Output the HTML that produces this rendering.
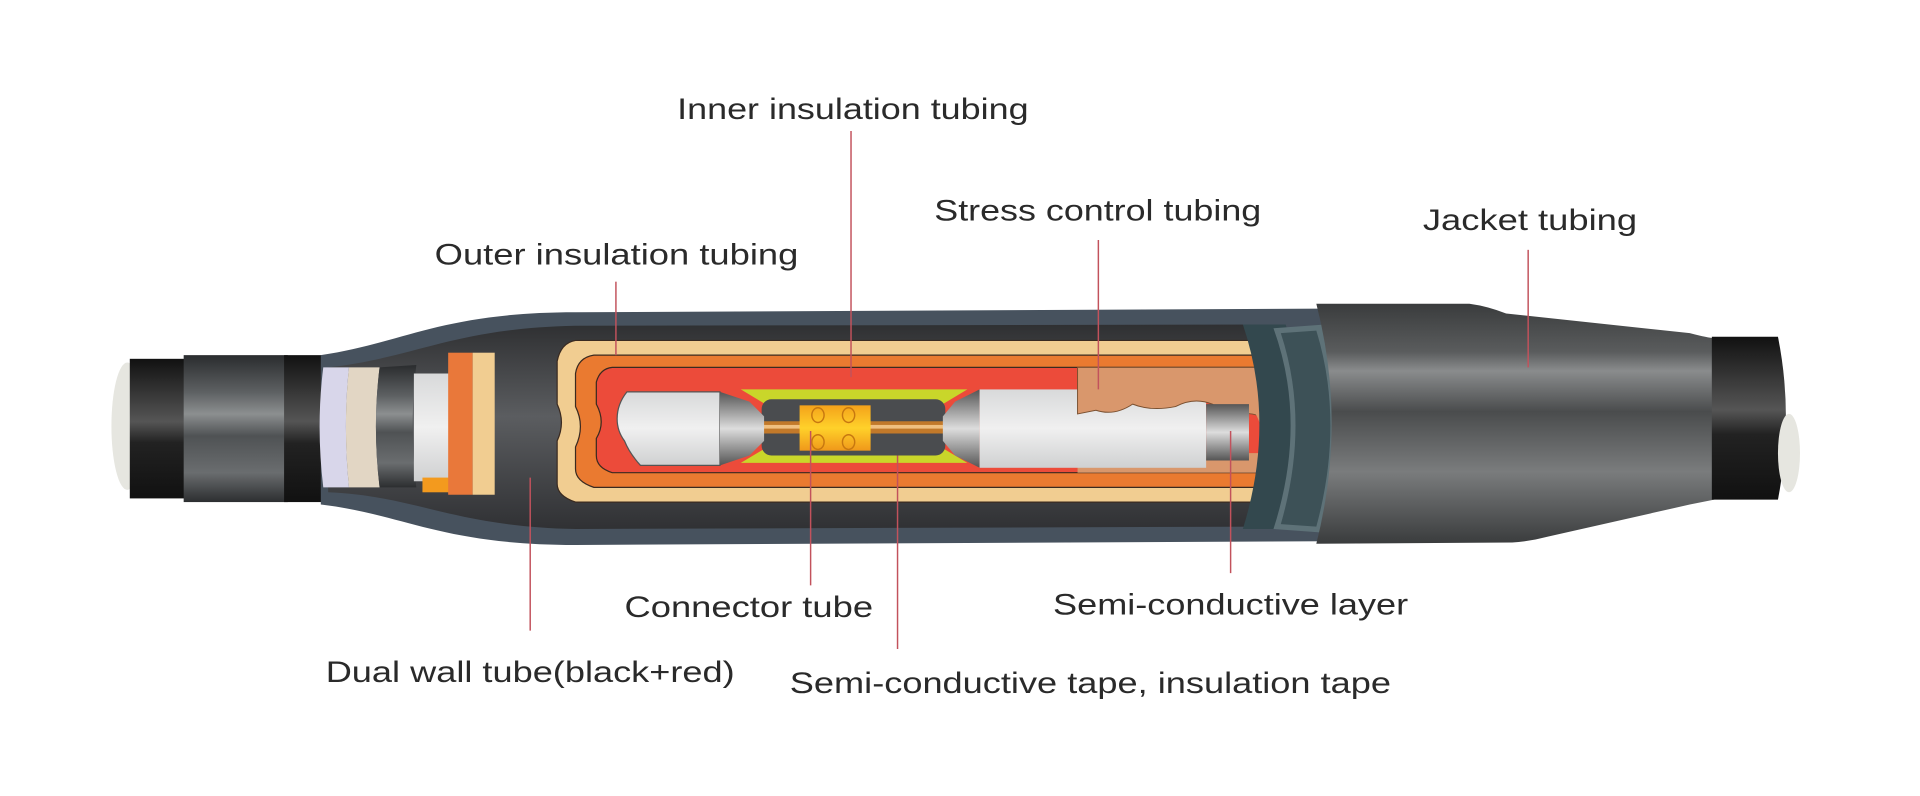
<!DOCTYPE html>
<html><head><meta charset="utf-8"><style>
html,body{margin:0;padding:0;background:#fff;width:1920px;height:796px;overflow:hidden}
svg{display:block}
text{font-family:"Liberation Sans",sans-serif;font-size:24.5px;fill:#2a2a2a}
.ln{stroke:#c2525c;stroke-width:1.2;fill:none}
</style></head><body>
<svg width="1920" height="796" viewBox="0 0 1568 650" xmlns="http://www.w3.org/2000/svg">
<defs>
<linearGradient id="met" x1="0" y1="0" x2="0" y2="1">
<stop offset="0" stop-color="#2a2c2e"/><stop offset=".25" stop-color="#5d6062"/><stop offset=".4" stop-color="#8c8f90"/><stop offset=".55" stop-color="#4f5254"/><stop offset=".8" stop-color="#6a6d6f"/><stop offset="1" stop-color="#2c2e30"/></linearGradient>
<linearGradient id="blk" x1="0" y1="0" x2="0" y2="1">
<stop offset="0" stop-color="#111"/><stop offset=".45" stop-color="#555"/><stop offset=".6" stop-color="#222"/><stop offset="1" stop-color="#111"/></linearGradient>
<linearGradient id="jk" x1="0" y1="0" x2="0" y2="1">
<stop offset="0" stop-color="#3a3c3d"/><stop offset=".2" stop-color="#5a5c5d"/><stop offset=".28" stop-color="#8a8c8d"/><stop offset=".45" stop-color="#4a4c4d"/><stop offset=".7" stop-color="#7a7c7d"/><stop offset="1" stop-color="#3a3c3d"/></linearGradient>
<linearGradient id="wh" x1="0" y1="0" x2="0" y2="1">
<stop offset="0" stop-color="#d8d9da"/><stop offset=".5" stop-color="#f0f0f0"/><stop offset="1" stop-color="#cfd0d1"/></linearGradient>
<linearGradient id="cone" x1="0" y1="0" x2="0" y2="1">
<stop offset="0" stop-color="#555"/><stop offset=".5" stop-color="#ddd"/><stop offset="1" stop-color="#555"/></linearGradient>
<linearGradient id="gold" x1="0" y1="0" x2="0" y2="1">
<stop offset="0" stop-color="#f4a21a"/><stop offset=".5" stop-color="#ffd12a"/><stop offset="1" stop-color="#f0981a"/></linearGradient>
<linearGradient id="dk" x1="0" y1="0" x2="0" y2="1">
<stop offset="0" stop-color="#2f3032"/><stop offset=".45" stop-color="#5b5d60"/><stop offset="1" stop-color="#303134"/></linearGradient>
</defs>

<ellipse cx="104" cy="348" rx="13" ry="52" fill="#e6e6e0"/>
<rect x="106" y="293" width="46" height="114" fill="url(#blk)"/>
<rect x="150" y="290" width="85" height="120" fill="url(#met)"/>
<rect x="232" y="290" width="32" height="120" fill="url(#blk)"/>

<path d="M262 290 C330 280 360 255 470 255 L1080 252 L1080 442 L470 445 C360 445 330 420 262 412 Z" fill="#47525e"/>
<path d="M268 300 C340 292 370 268 470 266 L1040 265 L1040 430 L470 432 C370 430 340 405 268 402 Z" fill="url(#dk)"/>
<path d="M264 300 L285 300 Q280 348 285 398 L264 398 Q258 348 264 300Z" fill="#d8d6ea"/>
<path d="M285 300 L310 300 Q304 348 310 398 L285 398 Q280 348 285 300Z" fill="#e2d6c4"/>
<path d="M310 300 L340 298 Q334 348 340 398 L310 398 Q304 348 310 300Z" fill="url(#met)"/>
<rect x="338" y="305" width="32" height="88" fill="url(#wh)"/>
<rect x="345" y="390" width="25" height="12" fill="#f39a1e"/>
<rect x="366" y="288" width="20" height="116" fill="#e9783a"/>
<rect x="386" y="288" width="18" height="116" fill="#f1cd91"/>

<path d="M470 278 L1035 278 L1035 410 L470 410 Q455 405 455 395 L455 360 Q462 345 455 330 L455 295 Q458 280 470 278Z" fill="#f1cd91" stroke="#3a2a20" stroke-width="1"/>
<path d="M485 290 L1035 290 L1035 398 L485 398 Q470 393 470 383 L470 365 Q478 348 470 332 L470 305 Q472 292 485 290Z" fill="#ea7a30" stroke="#3a2a20" stroke-width="1"/>
<path d="M500 300 L1035 300 L1035 386 L500 386 Q487 382 487 372 L487 358 Q495 345 487 330 L487 312 Q490 301 500 300Z" fill="#ec4b3a" stroke="#3a2a20" stroke-width="1"/>
<rect x="880" y="370" width="155" height="16" fill="#d9976c"/>
<path d="M605 318 L790 318 L770 330 L770 366 L790 378 L605 378 L625 366 L625 330Z" fill="#c9d62a"/>
<rect x="622" y="326" width="150" height="46" rx="8" fill="#4a4c4f"/>
<rect x="622" y="344" width="150" height="10" fill="#c2792a"/>
<rect x="622" y="347" width="150" height="3" fill="#f0c080"/>
<rect x="653" y="331" width="58" height="37" fill="url(#gold)"/>
<g stroke="#c77810" fill="none" stroke-width="1.2">
<ellipse cx="668" cy="339" rx="5" ry="6"/><ellipse cx="693" cy="339" rx="5" ry="6"/>
<ellipse cx="668" cy="361" rx="5" ry="6"/><ellipse cx="693" cy="361" rx="5" ry="6"/></g>
<path d="M512 320 L588 320 L588 380 L523 380 Q514 370 510 360 Q504 352 504 342 Q504 330 512 320Z" fill="url(#wh)" stroke="#555" stroke-width="1"/>
<path d="M588 320 L612 328 L624 340 L624 360 L612 372 L588 380Z" fill="url(#cone)"/>
<path d="M770 340 L780 328 L800 318 L800 382 L780 372 L770 360Z" fill="url(#cone)"/>
<rect x="800" y="318" width="185" height="64" fill="url(#wh)"/>
<path d="M880 300 L1030 300 L1030 340 Q1015 335 1005 340 L990 330 Q975 324 960 332 Q940 336 925 330 Q910 340 895 335 L880 338Z" fill="#d9976c" stroke="#7a5030" stroke-width=".8"/>
<path d="M985 330 L1020 330 L1020 376 L985 376Z" fill="url(#cone)"/>
<path d="M1020 330 Q1028 340 1030 350 L1030 300 Q1025 320 1020 330Z" fill="#d9976c"/>

<path d="M1015 265 L1050 265 Q1075 345 1050 432 L1015 432 Q1042 345 1015 265Z" fill="#33484e"/>
<path d="M1040 268 L1082 265 Q1110 345 1082 435 L1040 432 Q1068 345 1040 268Z" fill="#5e7278"/>
<path d="M1046 272 L1075 270 Q1098 345 1075 430 L1046 428 Q1070 345 1046 272Z" fill="#3d5157"/>

<path d="M1075 248 L1200 248 Q1215 250 1230 256 L1380 272 Q1395 276 1400 276 L1400 408 L1380 412 L1265 438 Q1250 442 1235 443 L1075 444 Q1100 345 1075 248Z" fill="url(#jk)"/>
<path d="M1398 275 L1452 275 Q1465 340 1452 408 L1398 408Z" fill="url(#blk)"/>
<ellipse cx="1461" cy="370" rx="9" ry="32" fill="#e6e6e0"/>

<line class="ln" x1="695" y1="107" x2="695" y2="308"/>
<line class="ln" x1="897" y1="196" x2="897" y2="318"/>
<line class="ln" x1="1248" y1="204" x2="1248" y2="300"/>
<line class="ln" x1="503" y1="230" x2="503" y2="290"/>
<line class="ln" x1="662" y1="352" x2="662" y2="478"/>
<line class="ln" x1="433" y1="390" x2="433" y2="515"/>
<line class="ln" x1="733" y1="372" x2="733" y2="530"/>
<line class="ln" x1="1005" y1="352" x2="1005" y2="468"/>

<text x="553" y="97" textLength="287" lengthAdjust="spacingAndGlyphs">Inner insulation tubing</text>
<text x="763" y="180" textLength="267" lengthAdjust="spacingAndGlyphs">Stress control tubing</text>
<text x="1162" y="188" textLength="175" lengthAdjust="spacingAndGlyphs">Jacket tubing</text>
<text x="355" y="216" textLength="297" lengthAdjust="spacingAndGlyphs">Outer insulation tubing</text>
<text x="510" y="504" textLength="203" lengthAdjust="spacingAndGlyphs">Connector tube</text>
<text x="860" y="502" textLength="290" lengthAdjust="spacingAndGlyphs">Semi-conductive layer</text>
<text x="266" y="557" textLength="334" lengthAdjust="spacingAndGlyphs">Dual wall tube(black+red)</text>
<text x="645" y="566" textLength="491" lengthAdjust="spacingAndGlyphs">Semi-conductive tape, insulation tape</text>
</svg>
</body></html>
